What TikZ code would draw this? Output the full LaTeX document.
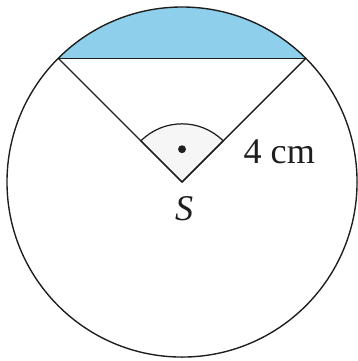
\documentclass[tikz,border=0pt]{standalone}
\usepackage{fontspec}
\setmainfont{Liberation Serif}
\usetikzlibrary{calc}
\definecolor{cSeg}{HTML}{8ECFEC}
\definecolor{cAng}{HTML}{F6F6F6}
\definecolor{cInk}{HTML}{1E1E1E}
\def\rad{4}
\def\angr{1.33}
\tikzset{
  geoline/.style={draw=cInk,line width=0.9pt,line join=round},
  anglefill/.style={fill=cAng,draw=cInk,line width=0.8pt},
  geolab/.style={font=\fontsize{23.5}{27}\selectfont,inner sep=0pt,text=cInk},
}
\begin{document}
\begin{tikzpicture}[x=1cm,y=1cm]
  \useasboundingbox (-4.16,-4.09) rectangle (4.02,4.16);
  \coordinate (S) at (0,0);
  \coordinate (A) at (135:\rad);
  \coordinate (B) at (45:\rad);

  \fill[cSeg] (B) arc[start angle=45,end angle=135,radius=\rad] -- cycle;
  \filldraw[anglefill] (S) -- (45:\angr) arc[start angle=45,end angle=135,radius=\angr] -- cycle;
  \fill[cInk] (90:0.75) circle[radius=0.09];

  \draw[geoline] (S) circle[radius=\rad];
  \draw[geoline] (A) -- (B);
  \draw[geoline] (A) -- (S) -- (B);

  \node[geolab,anchor=base west] (len) at (1.40,0.434) {4 cm};
  \node[geolab,anchor=base] (lS) at (0.05,-0.87) {\textit{S}};
\end{tikzpicture}
\end{document}
